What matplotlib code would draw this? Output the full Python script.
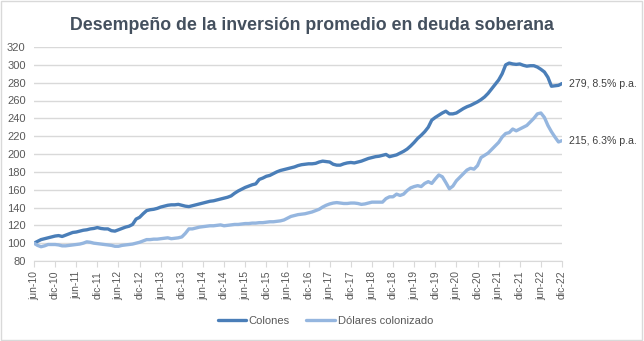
import numpy as np
import matplotlib.pyplot as plt
from matplotlib.patches import Rectangle

plt.rcParams['font.family'] = ['Liberation Sans', 'DejaVu Sans']

# monthly index, jun-10 .. dic-22
colones = [100, 102, 104, 105, 106, 107, 108, 108.5, 107.5, 109,
           110.5, 112, 112.5, 113.5, 114.5, 115, 116, 116.5, 117.5, 116.5,
           116, 116, 114, 113.5, 115, 116.5, 118, 119, 121, 127,
           129, 133, 136.5, 137.5, 138, 139, 140.5, 141.5, 142.5, 143,
           143, 143.5, 142.5, 141.5, 141, 142, 143, 144, 145, 146,
           147, 147.5, 148.5, 149.5, 150.5, 151.5, 153, 156, 158.5, 160.5,
           162.5, 164, 165.5, 166.5, 171.5, 173, 175, 176, 178, 180,
           181.5, 182.5, 183.5, 184.5, 185.5, 187, 188, 188.5, 189, 189,
           189.5, 191, 192, 191.5, 191, 188.5, 187.5, 187.5, 189, 190,
           190.5, 190, 191, 192, 193.5, 195, 196, 197, 197.5, 198.5,
           199.5, 197, 198, 199, 201, 203, 205.5, 209, 213, 217.5,
           221, 225, 230, 238, 241, 243.5, 246, 248, 245, 245,
           246, 248.5, 251, 253, 254.5, 256.5, 258.5, 261, 264, 268,
           273, 278, 283, 290, 300, 302, 301, 300.5, 301, 299.5,
           298.5, 299, 299, 297.5, 295, 292, 286, 276, 276.5, 277,
           279]

dolares = [100, 97.5, 96, 97, 98.5, 98.5, 98.5, 98, 97, 97,
           97.5, 98, 98.5, 99, 100, 101.5, 101, 100, 99.5, 99,
           98.5, 98, 97.5, 96.5, 96.5, 97.5, 98, 98.5, 99, 100,
           101, 102.5, 104, 104, 104.5, 104.5, 105, 105.5, 106, 105,
           105.5, 106, 107, 111, 116, 116, 117, 118, 118.5, 119,
           119.5, 119.5, 120, 120.5, 119.5, 120, 120.5, 121, 121, 121.5,
           122, 122, 122.5, 122.5, 123, 123, 123.5, 124, 124, 124.5,
           125, 126, 128, 130, 131, 132, 132.5, 133, 134, 135,
           136.5, 138, 140.5, 142.5, 144, 145, 145.5, 145, 144.5, 144.5,
           145, 145, 144.5, 143.5, 144, 145, 146, 146, 146, 146,
           150, 152, 152, 155, 153.5, 155, 159, 162, 163.5, 164.5,
           163.5, 167, 169, 167, 172, 176.5, 174.5, 168, 161, 164,
           170, 174, 178, 182, 184, 183, 187, 196, 198.5, 201,
           205, 209, 213, 219, 223, 224, 228, 226, 228, 230,
           232, 236, 240, 245, 246, 241, 232, 225, 219, 213.5,
           215]

years = range(10, 23)
tick_labels = []
for y in years:
    tick_labels += ['jun-%d' % y, 'dic-%d' % y]

end_labels = ['279, 8.5% p.a.', '215, 6.3% p.a.']
series_names = ['Colones', 'Dólares colonizado']

dark = '#4a7eb8'
light = '#95b6df'
grid_c = '#d9d9d9'
text_c = '#595959'

fig = plt.figure(figsize=(6.44, 3.41), dpi=100)
ax = fig.add_axes([34/644, 80/341, 528/644, 214/341])

x = np.arange(len(colones))
ax.plot(x, colones, color=dark, lw=2.4, label=series_names[0], solid_capstyle='round')
ax.plot(x, dolares, color=light, lw=2.4, label=series_names[1], solid_capstyle='round')

ax.set_xlim(0, len(colones) - 1)
ax.set_ylim(80, 320)
ax.set_yticks(np.arange(80, 321, 20))
ax.set_xticks(np.arange(0, len(colones), 6))
ax.set_xticklabels(tick_labels, rotation=90)
ax.grid(axis='y', color=grid_c, lw=1)
ax.set_axisbelow(True)
for s in ['top', 'right', 'left']:
    ax.spines[s].set_visible(False)
ax.spines['bottom'].set_color(grid_c)
ax.tick_params(axis='y', length=0, pad=6, labelsize=8, labelcolor=text_c)
ax.tick_params(axis='x', length=4, color=grid_c, pad=3, labelsize=7.5, labelcolor=text_c)

for vals, lab in zip([colones, dolares], end_labels):
    ax.annotate(lab, xy=(x[-1], vals[-1]), xytext=(5, 0), textcoords='offset points',
                va='center', ha='left', fontsize=7.6, color='#404040', annotation_clip=False)

fig.text(0.485, 0.925, 'Desempeño de la inversión promedio en deuda soberana',
         ha='center', va='center', fontsize=12.8, fontweight='bold', color='#44505e')

fig.legend(loc='center', bbox_to_anchor=(0.505, 0.06), ncol=2, frameon=False,
           fontsize=8, handlelength=2.6, columnspacing=1.5, handletextpad=0.2,
           labelcolor=text_c)

fig.patches.append(Rectangle((0.002, 0.003), 0.995, 0.993, transform=fig.transFigure,
                             fill=False, edgecolor=grid_c, lw=1))

fig.savefig('out.png', dpi=100)
